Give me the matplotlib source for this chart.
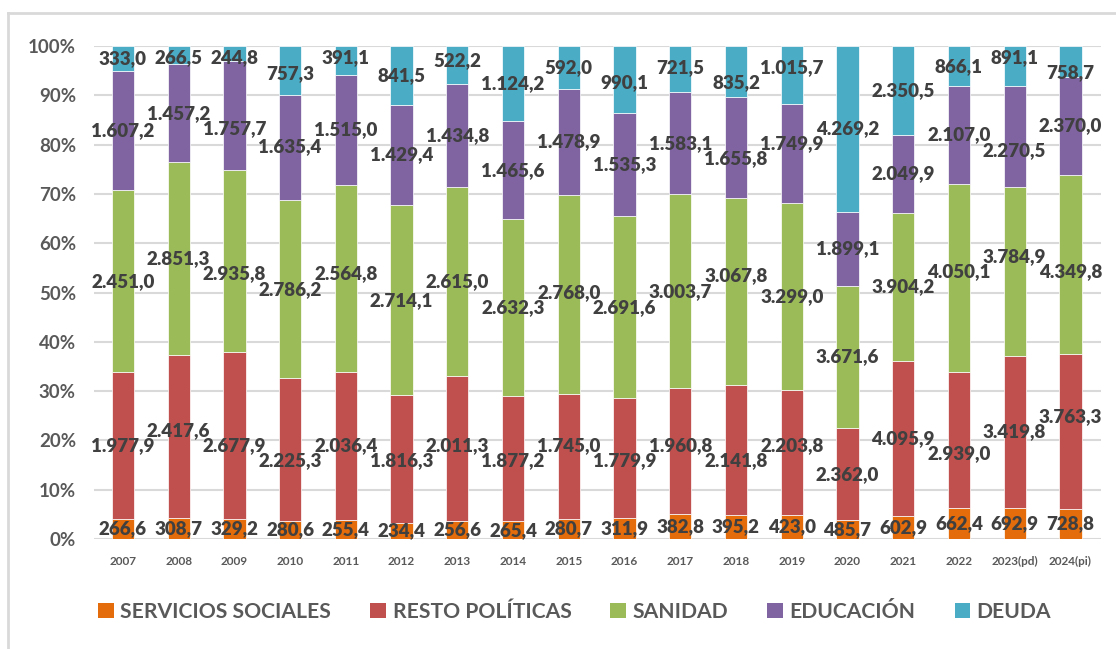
import matplotlib
matplotlib.use("Agg")
import matplotlib.pyplot as plt
from matplotlib.patches import Patch
import numpy as np

years = ["2007", "2008", "2009", "2010", "2011", "2012", "2013", "2014", "2015",
         "2016", "2017", "2018", "2019", "2020", "2021", "2022", "2023(pd)", "2024(pi)"]

servicios_sociales = [266.6, 308.7, 329.2, 280.6, 255.4, 234.4, 256.6, 265.4, 280.7,
                      311.9, 382.8, 395.2, 423.0, 485.7, 602.9, 662.4, 692.9, 728.8]
resto_politicas = [1977.9, 2417.6, 2677.9, 2225.3, 2036.4, 1816.3, 2011.3, 1877.2, 1745.0,
                   1779.9, 1960.8, 2141.8, 2203.8, 2362.0, 4095.9, 2939.0, 3419.8, 3763.3]
sanidad = [2451.0, 2851.3, 2935.8, 2786.2, 2564.8, 2714.1, 2615.0, 2632.3, 2768.0,
           2691.6, 3003.7, 3067.8, 3299.0, 3671.6, 3904.2, 4050.1, 3784.9, 4349.8]
educacion = [1607.2, 1457.2, 1757.7, 1635.4, 1515.0, 1429.4, 1434.8, 1465.6, 1478.9,
             1535.3, 1583.1, 1655.8, 1749.9, 1899.1, 2049.9, 2107.0, 2270.5, 2370.0]
deuda = [333.0, 266.5, 244.8, 757.3, 391.1, 841.5, 522.2, 1124.2, 592.0,
         990.1, 721.5, 835.2, 1015.7, 4269.2, 2350.5, 866.1, 891.1, 758.7]

series_names = ["SERVICIOS SOCIALES", "RESTO POLÍTICAS", "SANIDAD", "EDUCACIÓN", "DEUDA"]
colors = ["#E46C0A", "#C0504D", "#9BBB59", "#8064A2", "#4BACC6"]

data = np.array([servicios_sociales, resto_politicas, sanidad, educacion, deuda])
pct = data / data.sum(axis=0) * 100


def fmt_es(v):
    s = f"{v:,.1f}"
    return s.replace(",", "X").replace(".", ",").replace("X", ".")


def label_positions(lo, hi, gap=3.1):
    # centro del tramo, desplazado si choca con la etiqueta de la columna anterior
    centers = (lo + hi) / 2
    ys = centers.copy()
    for j in range(1, len(ys)):
        if abs(ys[j] - ys[j - 1]) >= gap:
            continue
        up = ys[j - 1] + gap
        down = ys[j - 1] - gap
        top = min(hi[j] - 1.0, 97.6)
        bot = lo[j] + 1.0
        opts = [up, down] if centers[j] >= ys[j - 1] else [down, up]
        ys[j] = next((o for o in opts if bot <= o <= top), np.clip(opts[0], bot, top))
    return ys


plt.rcParams["font.family"] = ["Lato", "DejaVu Sans"]

fig = plt.figure(figsize=(11.16, 6.49), dpi=100)
ax = fig.add_axes([0.0842, 0.1695, 0.9024, 0.7596])

x = np.arange(len(years))
bottom = np.zeros(len(years))
for i in range(len(series_names)):
    ax.bar(x, pct[i], 0.4, bottom=bottom, color=colors[i], edgecolor="white",
           linewidth=0.5, zorder=2)
    if i == 0:
        ys = bottom + pct[i] / 2
    else:
        ys = label_positions(bottom, bottom + pct[i])
    for j in range(len(years)):
        ax.text(x[j], ys[j], fmt_es(data[i][j]),
                ha="center", va="center", fontsize=13.5, fontweight="heavy",
                color="#404040", zorder=3)
    bottom = bottom + pct[i]

ax.set_xlim(-0.52, len(years) - 0.45)
ax.set_ylim(0, 100)
ax.set_yticks(np.arange(0, 101, 10))
ax.set_yticklabels([f"{v}%" for v in range(0, 101, 10)])
ax.set_xticks(x)
ax.set_xticklabels(years)
ax.tick_params(axis="y", length=0, labelsize=13.5, labelcolor="#595959", pad=13)
ax.tick_params(axis="x", length=0, labelsize=8.5, labelcolor="#595959", pad=12)
for lbl in ax.get_xticklabels() + ax.get_yticklabels():
    lbl.set_fontweight("bold")
ax.grid(axis="y", color="#D9D9D9", linewidth=1.5, zorder=0)
ax.set_axisbelow(True)
for sp in ax.spines.values():
    sp.set_visible(False)

handles = [Patch(facecolor=c, edgecolor="none") for c in colors]
fig.legend(handles, series_names, loc="center", bbox_to_anchor=(0.515, 0.057),
           ncol=5, frameon=False, prop={"size": 15.2, "weight": "bold"},
           labelcolor="#595959", handlelength=0.75, handleheight=0.75,
           handletextpad=0.3, columnspacing=1.85)

# marco exterior
fig.add_artist(plt.Line2D([0.0075, 0.0075], [0.0, 0.98], color="#D9D9D9", linewidth=2,
                          transform=fig.transFigure))
fig.add_artist(plt.Line2D([0.0075, 1.0], [0.98, 0.98], color="#D9D9D9", linewidth=2,
                          transform=fig.transFigure))

fig.savefig("out.png", dpi=100)
